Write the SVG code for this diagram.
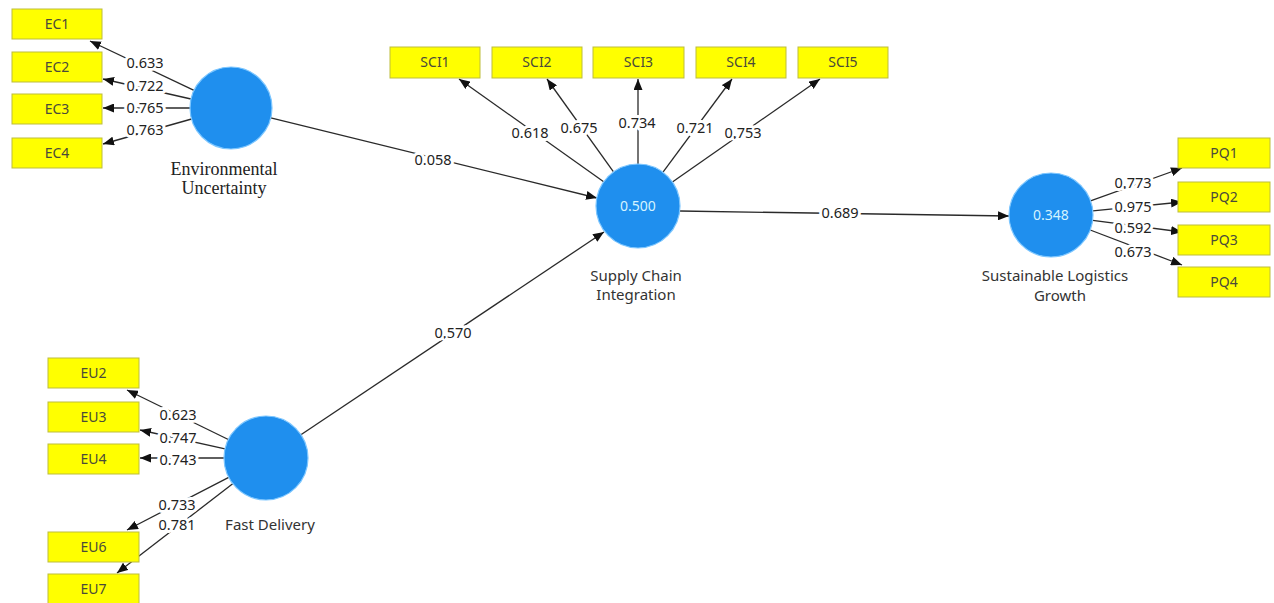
<svg xmlns="http://www.w3.org/2000/svg" width="1274" height="603" viewBox="0 0 1274 603">
<style>
.box{fill:#ffff00;stroke:#bdbd3c;stroke-width:1}
.bt{font-family:"Noto Sans","Open Sans",sans-serif;font-size:14px;fill:#4a4a3a;text-anchor:middle}
.lv{fill:#1f8fee;stroke:#7cc6ff;stroke-width:1.2}
.lt{font-family:"Noto Sans","Open Sans",sans-serif;font-size:15px;fill:#333;text-anchor:middle}
.st{font-family:"Liberation Serif","Times New Roman",serif;font-size:18px;fill:#222;text-anchor:middle}
.in{font-family:"Noto Sans","Open Sans",sans-serif;font-size:14px;fill:#d4f3ff;text-anchor:middle}
.w{font-family:"Noto Sans","Open Sans",sans-serif;font-size:14.5px;fill:#222;text-anchor:middle;stroke:#fff;stroke-width:6;stroke-linejoin:round;paint-order:stroke}
.c{stroke:#2a2a2a;stroke-width:1.3;fill:none;marker-end:url(#ah)}
</style>
<defs>
<marker id="ah" markerUnits="userSpaceOnUse" markerWidth="11" markerHeight="9" refX="11" refY="4.5" orient="auto">
<path d="M0,0 L11,4.5 L0,9 z" fill="#111"/>
</marker>
</defs>
<rect width="1274" height="603" fill="#fff"/>
<g id="connectors">
<line class="c" x1="194" y1="90.4" x2="90" y2="41"/>
<line class="c" x1="191" y1="99" x2="103" y2="79"/>
<line class="c" x1="190" y1="108" x2="103" y2="108"/>
<line class="c" x1="191.6" y1="119" x2="103" y2="144"/>
<line class="c" x1="603.7" y1="181.7" x2="459" y2="79"/>
<line class="c" x1="613.5" y1="171.9" x2="547" y2="79"/>
<line class="c" x1="638" y1="164" x2="638" y2="79"/>
<line class="c" x1="663" y1="172.2" x2="732" y2="79"/>
<line class="c" x1="672.4" y1="182" x2="820" y2="79"/>
<line class="c" x1="1090.5" y1="200.8" x2="1182" y2="168"/>
<line class="c" x1="1092.8" y1="210.8" x2="1182" y2="202"/>
<line class="c" x1="1092.7" y1="220.4" x2="1182" y2="232"/>
<line class="c" x1="1090.2" y1="230" x2="1182" y2="265"/>
<line class="c" x1="228.3" y1="439.5" x2="127" y2="390"/>
<line class="c" x1="225" y1="448.9" x2="140" y2="430"/>
<line class="c" x1="224" y1="458" x2="140" y2="458"/>
<line class="c" x1="228.7" y1="477.3" x2="127" y2="530"/>
<line class="c" x1="232.7" y1="483.7" x2="117" y2="573"/>
<line class="c" x1="270.8" y1="117.8" x2="597" y2="198"/>
<line class="c" x1="300.9" y1="434.7" x2="604" y2="232"/>
<line class="c" x1="680" y1="211" x2="1009" y2="216"/>
<text class="w" x="145" y="68">0.633</text>
<text class="w" x="145" y="91">0.722</text>
<text class="w" x="145" y="113">0.765</text>
<text class="w" x="145" y="135">0.763</text>
<text class="w" x="530" y="138">0.618</text>
<text class="w" x="579" y="133">0.675</text>
<text class="w" x="637" y="128">0.734</text>
<text class="w" x="695" y="133">0.721</text>
<text class="w" x="743" y="138">0.753</text>
<text class="w" x="1133" y="188">0.773</text>
<text class="w" x="1133" y="212">0.975</text>
<text class="w" x="1133" y="233">0.592</text>
<text class="w" x="1133" y="257">0.673</text>
<text class="w" x="178" y="420">0.623</text>
<text class="w" x="178" y="443">0.747</text>
<text class="w" x="178" y="465">0.743</text>
<text class="w" x="177" y="510">0.733</text>
<text class="w" x="177" y="530">0.781</text>
<text class="w" x="433" y="165">0.058</text>
<text class="w" x="453" y="338">0.570</text>
<text class="w" x="840" y="218">0.689</text>
</g>
<g id="EC1"><rect class="box" x="12" y="9" width="90" height="30"/><text class="bt" x="57" y="29">EC1</text></g>
<g id="EC2"><rect class="box" x="12" y="52" width="90" height="30"/><text class="bt" x="57" y="72">EC2</text></g>
<g id="EC3"><rect class="box" x="12" y="94" width="90" height="30"/><text class="bt" x="57" y="114">EC3</text></g>
<g id="EC4"><rect class="box" x="12" y="138" width="90" height="30"/><text class="bt" x="57" y="158">EC4</text></g>
<g id="SCI1"><rect class="box" x="390" y="47" width="90" height="31"/><text class="bt" x="435" y="67">SCI1</text></g>
<g id="SCI2"><rect class="box" x="492" y="47" width="90" height="31"/><text class="bt" x="537" y="67">SCI2</text></g>
<g id="SCI3"><rect class="box" x="593" y="47" width="91" height="31"/><text class="bt" x="638.5" y="67">SCI3</text></g>
<g id="SCI4"><rect class="box" x="696" y="47" width="90" height="31"/><text class="bt" x="741" y="67">SCI4</text></g>
<g id="SCI5"><rect class="box" x="798" y="47" width="90" height="31"/><text class="bt" x="843" y="67">SCI5</text></g>
<g id="PQ1"><rect class="box" x="1178" y="138" width="92" height="30"/><text class="bt" x="1224" y="158">PQ1</text></g>
<g id="PQ2"><rect class="box" x="1178" y="182" width="92" height="30"/><text class="bt" x="1224" y="202">PQ2</text></g>
<g id="PQ3"><rect class="box" x="1178" y="225" width="92" height="30"/><text class="bt" x="1224" y="245">PQ3</text></g>
<g id="PQ4"><rect class="box" x="1178" y="267" width="92" height="30"/><text class="bt" x="1224" y="287">PQ4</text></g>
<g id="EU2"><rect class="box" x="48" y="358" width="91" height="30"/><text class="bt" x="93.5" y="378">EU2</text></g>
<g id="EU3"><rect class="box" x="48" y="402" width="91" height="30"/><text class="bt" x="93.5" y="422">EU3</text></g>
<g id="EU4"><rect class="box" x="48" y="444" width="91" height="30"/><text class="bt" x="93.5" y="464">EU4</text></g>
<g id="EU6"><rect class="box" x="48" y="532" width="91" height="30"/><text class="bt" x="93.5" y="552">EU6</text></g>
<g id="EU7"><rect class="box" x="48" y="574" width="91" height="30"/><text class="bt" x="93.5" y="594">EU7</text></g>
<g id="EnvironmentalUncertainty"><circle class="lv" cx="231" cy="108" r="41"/><text class="st" x="224" y="175">Environmental</text><text class="st" x="224" y="194">Uncertainty</text></g>
<g id="SupplyChainIntegration"><circle class="lv" cx="638" cy="206" r="42"/><text class="in" x="638" y="211">0.500</text><text class="lt" x="636" y="281">Supply Chain</text><text class="lt" x="636" y="300">Integration</text></g>
<g id="SustainableLogisticsGrowth"><circle class="lv" cx="1051" cy="215" r="42"/><text class="in" x="1051" y="220">0.348</text><text class="lt" x="1055" y="281">Sustainable Logistics</text><text class="lt" x="1060" y="301">Growth</text></g>
<g id="FastDelivery"><circle class="lv" cx="266" cy="458" r="42"/><text class="lt" x="270" y="530">Fast Delivery</text></g>
</svg>
